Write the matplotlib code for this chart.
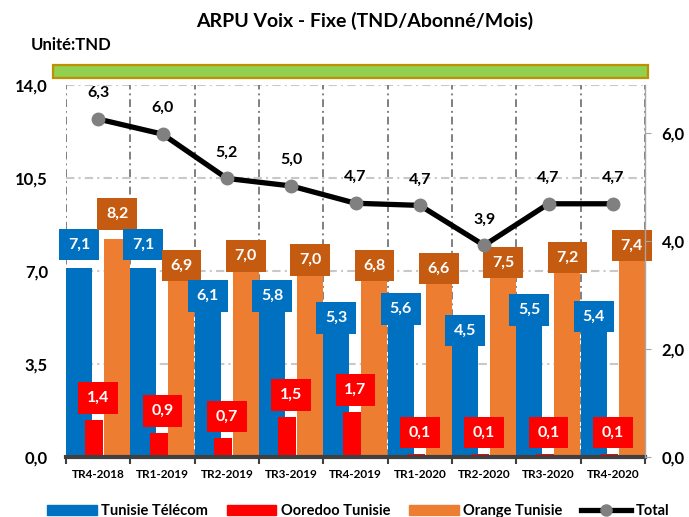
import numpy as np
import matplotlib
matplotlib.use("Agg")
import matplotlib.pyplot as plt
from matplotlib.patches import Patch, Rectangle
from matplotlib.lines import Line2D

plt.rcParams['font.family'] = ['Lato', 'DejaVu Sans']
plt.rcParams['font.weight'] = 'bold'

# data
quarters = ["TR4-2018", "TR1-2019", "TR2-2019", "TR3-2019", "TR4-2019",
            "TR1-2020", "TR2-2020", "TR3-2020", "TR4-2020"]
tunisie_telecom = [7.1, 7.1, 6.1, 5.8, 5.3, 5.6, 4.5, 5.5, 5.4]
ooredoo = [1.4, 0.9, 0.7, 1.5, 1.7, 0.1, 0.1, 0.1, 0.1]
orange = [8.2, 6.9, 7.0, 7.0, 6.8, 6.6, 7.5, 7.2, 7.4]
total = [6.26, 5.98, 5.16, 5.02, 4.70, 4.66, 3.92, 4.69, 4.69]

# label placement (pixels above bar top), manual as in the original
blue_off = [24, 24, -1, 7, -2, -1, 7, 1, -3]
orange_off = [25, 8, 15, 11, 11, 13, -5, 8, 15]
red_off = 22
total_off = 26

BLUE = "#0070C0"
RED = "#FF0000"
ORANGE = "#ED7D31"
ORANGE_LBL = "#C55A11"
W, H = 689, 517


def fmt(v):
    return "{:.1f}".format(v).replace(".", ",")


def px(p):
    return p * 72 / 100.0


fig = plt.figure(figsize=(W / 100, H / 100), dpi=100)
ax = fig.add_axes([66 / W, (H - 457) / H, (645 - 66) / W, 372 / H])
ax2 = ax.twinx()

x = np.arange(len(quarters))
ax.set_xlim(-0.5, len(quarters) - 0.5)
ax.set_ylim(0, 14)
ax2.set_ylim(0, 6.89)

# grid
for yv in [3.5, 7.0, 10.5, 14.0]:
    ax.axhline(yv, color="#C8C8C8", lw=1.5, ls=(0, (4, 2, 1, 2)), zorder=0)
for xv in np.arange(-0.5, len(quarters), 1.0):
    ax.axvline(xv, color="#808080", lw=1.4, ls=(0, (4, 2, 1, 2)), zorder=0)

ax.bar(x - 0.298, tunisie_telecom, width=0.404, color=BLUE, zorder=2)
ax.bar(x + 0.295, orange, width=0.404, color=ORANGE, zorder=2)
ax.bar(x - 0.062, ooredoo, width=0.28, color=RED, zorder=3)

lbl_kw = dict(textcoords="offset points", ha="center", va="center",
              color="white", fontsize=11.5, fontweight="bold", zorder=5)
box = "square,pad=0.55"
for i in range(len(quarters)):
    ax.annotate(fmt(tunisie_telecom[i]), (x[i] - 0.298, tunisie_telecom[i]),
                xytext=(0, px(blue_off[i])),
                bbox=dict(boxstyle=box, fc=BLUE, ec="none"), **lbl_kw)
    ax.annotate(fmt(orange[i]), (x[i] + 0.295, orange[i]),
                xytext=(0, px(orange_off[i])),
                bbox=dict(boxstyle=box, fc=ORANGE_LBL, ec="none"), **lbl_kw)
    ax.annotate(fmt(ooredoo[i]), (x[i], ooredoo[i]),
                xytext=(0, px(red_off)),
                bbox=dict(boxstyle=box, fc=RED, ec="none"), **lbl_kw)

ax2.plot(x, total, color="black", lw=3.8, marker="o", markersize=9,
         markerfacecolor="#808080", markeredgecolor="#808080", zorder=4)
for i, v in enumerate(total):
    ax2.annotate(fmt(v), (x[i], v), xytext=(0, px(total_off)),
                 textcoords="offset points", ha="center", va="center",
                 fontsize=11.5, fontweight="bold", color="black")

# axes styling
for s in ["top", "left"]:
    ax.spines[s].set_visible(False)
    ax2.spines[s].set_visible(False)
ax.spines["right"].set_visible(False)
ax2.spines["bottom"].set_visible(False)
ax.spines["bottom"].set_color("#404040")
ax.spines["bottom"].set_linewidth(3)
ax.spines["bottom"].set_zorder(6)
ax2.spines["right"].set_color("#A6A6A6")
ax2.spines["right"].set_linewidth(1)

ax.set_yticks([0, 3.5, 7, 10.5, 14])
ax.set_yticklabels([fmt(v) for v in [0, 3.5, 7, 10.5, 14]])
ax.tick_params(axis="y", length=0, pad=13, labelsize=12)
ax2.set_yticks([0, 2, 4, 6])
ax2.set_yticklabels([fmt(v) for v in [0, 2, 4, 6]])
ax2.tick_params(axis="y", length=4, color="#A6A6A6", pad=8, labelsize=12)

ax.set_xticks(x)
ax.set_xticklabels(quarters)
ax.set_xticks(np.arange(-0.5, len(quarters), 1.0), minor=True)
ax.tick_params(axis="x", which="major", length=0, pad=9, labelsize=8.5)
ax.tick_params(axis="x", which="minor", length=5, width=1.5, color="#404040")

# titles and green band
fig.text(365 / W, 1 - 21 / H, "ARPU Voix - Fixe (TND/Abonné/Mois)",
         ha="center", va="center", fontsize=14, fontweight="bold")
fig.text(31 / W, 1 - 45 / H, "Unité:TND", ha="left", va="center",
         fontsize=12, fontweight="bold")
fig.patches.append(Rectangle((53 / W, 1 - 78 / H), (648 - 53) / W, 13 / H,
                             transform=fig.transFigure, fc="#92D050",
                             ec="#BF9000", lw=1.6))

handles = [Patch(color=BLUE), Patch(color=RED), Patch(color=ORANGE),
           Line2D([], [], color="black", lw=3.8, marker="o", markersize=8,
                  markerfacecolor="#808080", markeredgecolor="#808080")]
labels = ["Tunisie Télécom", "Ooredoo Tunisie", "Orange Tunisie", "Total"]
fig.legend(handles, labels, loc="center", bbox_to_anchor=(358 / W, 1 - 511 / H),
           ncol=4, frameon=False, fontsize=10.5, handlelength=3.4,
           columnspacing=1.3, handletextpad=0.3)

fig.savefig("out.png", dpi=100)
